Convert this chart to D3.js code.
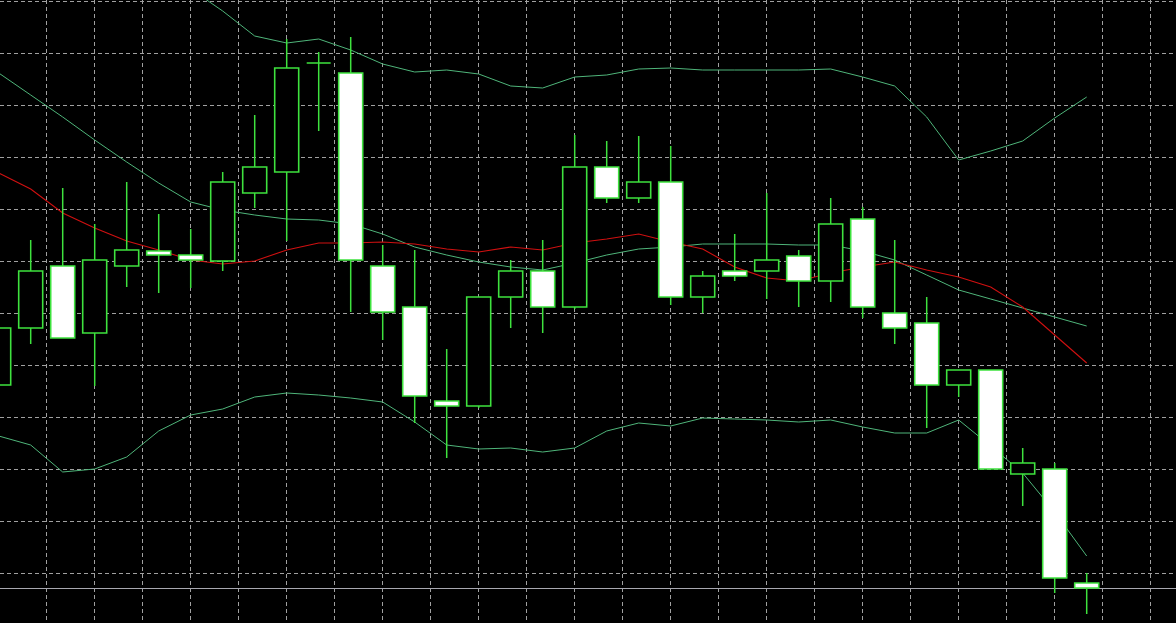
<!DOCTYPE html>
<html>
<head>
<meta charset="utf-8">
<script src="https://cdn.jsdelivr.net/npm/d3@7/dist/d3.min.js"></script>
<style>
  html, body { margin: 0; padding: 0; background: #000; overflow: hidden; }
  svg { display: block; }
</style>
</head>
<body>
<svg id="chart" width="1176" height="623"></svg>
<script>
// ---- Data (bar index 0..34) ----
const opens  = [1.08215,1.08272,1.08334,1.08267,1.08334,1.08349,1.08345,1.08339,1.08407,1.08428,1.08537,1.08527,1.08334,1.08293,1.08199,1.08194,1.08303,1.08329,1.08293,1.08433,1.08402,1.08418,1.08303,1.08329,1.08329,1.08344,1.08319,1.08381,1.08287,1.08277,1.08215,1.08230,1.08126,1.08131,1.08017];
const highs  = [1.08280,1.08360,1.08412,1.08376,1.08418,1.08386,1.08371,1.08428,1.08485,1.08561,1.08548,1.08563,1.08355,1.08350,1.08251,1.08303,1.08340,1.08360,1.08465,1.08459,1.08464,1.08454,1.08329,1.08366,1.08407,1.08350,1.08402,1.08393,1.08360,1.08303,1.08230,1.08230,1.08152,1.08137,1.08027];
const lows   = [1.08208,1.08256,1.08262,1.08214,1.08313,1.08307,1.08312,1.08329,1.08392,1.08359,1.08469,1.08288,1.08260,1.08177,1.08142,1.08192,1.08272,1.08267,1.08291,1.08397,1.08397,1.08295,1.08287,1.08319,1.08301,1.08293,1.08298,1.08282,1.08256,1.08172,1.08203,1.08131,1.08094,1.08007,1.07986];
const closes = [1.08272,1.08329,1.08262,1.08340,1.08350,1.08345,1.08340,1.08418,1.08433,1.08532,1.08537,1.08340,1.08288,1.08204,1.08194,1.08303,1.08329,1.08293,1.08433,1.08402,1.08418,1.08303,1.08324,1.08324,1.08340,1.08319,1.08376,1.08293,1.08272,1.08215,1.08230,1.08131,1.08137,1.08022,1.08012];

const bandUpper  = [1.08890,1.08855,1.08838,1.08789,1.08733,1.08665,1.08611,1.08589,1.08564,1.08557,1.08561,1.08550,1.08536,1.08528,1.08530,1.08526,1.08514,1.08512,1.08523,1.08525,1.08531,1.08532,1.08530,1.08530,1.08530,1.08530,1.08531,1.08523,1.08514,1.08483,1.08440,1.08449,1.08459,1.08482,1.08503];
const bandMiddle = [1.08527,1.08505,1.08483,1.08460,1.08438,1.08417,1.08398,1.08390,1.08385,1.08381,1.08380,1.08376,1.08366,1.08353,1.08345,1.08338,1.08333,1.08330,1.08337,1.08345,1.08351,1.08353,1.08356,1.08356,1.08356,1.08355,1.08355,1.08349,1.08340,1.08325,1.08310,1.08301,1.08292,1.08283,1.08274];
const bandLower  = [1.08164,1.08155,1.08128,1.08131,1.08143,1.08169,1.08185,1.08191,1.08203,1.08207,1.08205,1.08202,1.08198,1.08178,1.08155,1.08151,1.08152,1.08148,1.08152,1.08169,1.08177,1.08174,1.08182,1.08181,1.08180,1.08178,1.08180,1.08173,1.08167,1.08167,1.08180,1.08154,1.08127,1.08088,1.08044];
const movingAvg  = [1.08427,1.08411,1.08387,1.08372,1.08359,1.08350,1.08340,1.08336,1.08339,1.08350,1.08357,1.08357,1.08358,1.08356,1.08351,1.08348,1.08353,1.08350,1.08357,1.08361,1.08366,1.08358,1.08351,1.08333,1.08322,1.08319,1.08327,1.08333,1.08338,1.08330,1.08323,1.08313,1.08293,1.08265,1.08237];

// grid definitions
const gridPriceTop = 1.08599, gridPriceStep = 0.00052, gridPriceCount = 12;
const gridBarStep = 1.5, gridBarCount = 24;

// ---- Layout ----
const W = 1176, H = 623;
const svg = d3.select("#chart");
svg.append("rect").attr("width", W).attr("height", H).attr("fill", "#000");

const x = d3.scaleLinear().domain([0, 34]).range([-1.3, 1086.7]);
const y = d3.scaleLinear().domain([1.07977, 1.08600]).range([623, 0]);

const bars = opens.map((o, i) => ({ i, o, h: highs[i], l: lows[i], c: closes[i] }));

// grid
const hTicks = d3.range(gridPriceCount).map(k => gridPriceTop - k * gridPriceStep);
const vTicks = d3.range(1, gridBarCount + 1).map(k => k * gridBarStep);

const grid = svg.append("g").attr("stroke", "#a0a0a0").attr("stroke-width", 1)
  .attr("stroke-dasharray", "4,3").attr("shape-rendering", "crispEdges");
grid.selectAll("line.h").data(hTicks).join("line").attr("class", "h")
  .attr("x1", 0).attr("x2", W)
  .attr("y1", d => Math.round(y(d)) + 0.5).attr("y2", d => Math.round(y(d)) + 0.5);
grid.selectAll("line.v").data(vTicks).join("line").attr("class", "v")
  .attr("y1", 0).attr("y2", H)
  .attr("x1", d => Math.round(x(d)) - 0.5).attr("x2", d => Math.round(x(d)) - 0.5);

// current price line
const last = closes[closes.length - 1];
svg.append("line").attr("x1", 0).attr("x2", W)
  .attr("y1", Math.round(y(last)) + 0.5).attr("y2", Math.round(y(last)) + 0.5)
  .attr("stroke", "#a8a8b0").attr("stroke-width", 1).attr("shape-rendering", "crispEdges");

// indicator lines
const lineGen = d3.line().x((d, i) => x(i)).y(d => y(d));
[bandUpper, bandMiddle, bandLower].forEach(arr => {
  svg.append("path").attr("d", lineGen(arr)).attr("fill", "none")
    .attr("stroke", "#4fb57a").attr("stroke-width", 1);
});
svg.append("path").attr("d", lineGen(movingAvg)).attr("fill", "none")
  .attr("stroke", "#d01010").attr("stroke-width", 1.1);

// candles
const candleColor = "#3ee23e";
const cg = svg.append("g");
cg.selectAll("line.wick").data(bars).join("line").attr("class", "wick")
  .attr("x1", d => x(d.i)).attr("x2", d => x(d.i))
  .attr("y1", d => y(d.h)).attr("y2", d => y(d.l))
  .attr("stroke", candleColor).attr("stroke-width", 1.5);
cg.selectAll("path.body").data(bars).join("path").attr("class", "body")
  .attr("d", d => {
    const x0 = x(d.i) - 12, x1 = x(d.i) + 12;
    const y0 = y(Math.max(d.o, d.c)), y1 = y(Math.min(d.o, d.c));
    return `M${x0},${y0}L${x1},${y0}L${x1},${y1}L${x0},${y1}Z`;
  })
  .attr("fill", d => d.c < d.o ? "#ffffff" : "#000000")
  .attr("stroke", candleColor).attr("stroke-width", 1.6);
</script>
</body>
</html>
